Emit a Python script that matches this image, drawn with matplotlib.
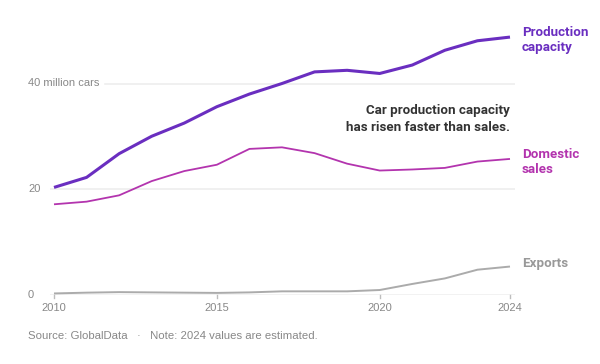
import matplotlib
matplotlib.use("Agg")
import matplotlib.pyplot as plt
from matplotlib import transforms

years = list(range(2010, 2025))
production_capacity = [20.3, 22.2, 26.7, 30.0, 32.5, 35.6, 38.0, 40.0, 42.2, 42.5, 41.9, 43.5, 46.3, 48.1, 48.8]
domestic_sales = [17.1, 17.6, 18.8, 21.5, 23.4, 24.6, 27.6, 27.9, 26.8, 24.8, 23.5, 23.7, 24.0, 25.2, 25.7]
exports = [0.2, 0.35, 0.45, 0.4, 0.35, 0.3, 0.4, 0.6, 0.6, 0.6, 0.85, 2.0, 3.05, 4.7, 5.3]

xticks = [2010, 2015, 2020, 2024]
yticks = [0, 20, 40]
ytick_labels = ["0", "20", "40 million cars"]

C_PROD = "#6a2ec0"
C_DOM = "#b334ae"
C_EXP = "#ababab"

NARROW = ["Liberation Sans Narrow", "Roboto", "DejaVu Sans"]
REG = ["Liberation Sans", "DejaVu Sans"]

W, H = 600, 364
fig = plt.figure(figsize=(6, 3.64), dpi=100)
x0px, x1px = 50, 515
ybot = 294.5
ax = fig.add_axes([x0px / W, (H - ybot) / H, (x1px - x0px) / W, 55 * 5.275 / H])
ax.set_xlim(2010 - 4 / 32.571, 2010 + 461 / 32.571)
ax.set_ylim(0, 55)
for s in ax.spines.values():
    s.set_visible(False)
ax.set_xticks([])
ax.set_yticks([])

# gridlines
ax.axhline(20, xmin=0, xmax=1, color="#eeeeee", lw=1.2, zorder=0)
ax.axhline(40, xmin=(105 - x0px) / (x1px - x0px), xmax=1, color="#eeeeee", lw=1.2, zorder=0)
ax.axhline(0, color="#bdbdbd", lw=1.0, zorder=1)

ylab_tr = transforms.blended_transform_factory(fig.transFigure, ax.transData)
for v, lab in zip(yticks, ytick_labels):
    ax.text(28 / W, v, lab, transform=ylab_tr, ha="left", va="center",
            fontsize=8, color="#888888", family=REG)

for xt in xticks:
    ax.plot([xt, xt], [0, -0.75], color="#bdbdbd", lw=1.0, clip_on=False)
    ax.text(xt, -2.6, str(xt), ha="center", va="center", fontsize=8,
            color="#888888", family=REG, clip_on=False)

ax.plot(years, exports, color=C_EXP, lw=1.4, zorder=3, solid_capstyle="butt")
ax.plot(years, domestic_sales, color=C_DOM, lw=1.3, zorder=4, solid_capstyle="butt")
ax.plot(years, production_capacity, color=C_PROD, lw=2.2, zorder=5, solid_capstyle="butt")

lx = 2024 + 12 / 32.571
ax.text(lx, production_capacity[-1] - 0.6, "Production\ncapacity", ha="left", va="center",
        fontsize=9.6, fontweight="bold", color=C_PROD, family=NARROW, linespacing=1.15)
ax.text(lx, domestic_sales[-1] - 0.6, "Domestic\nsales", ha="left", va="center",
        fontsize=9.6, fontweight="bold", color=C_DOM, family=NARROW, linespacing=1.15)
ax.text(lx, exports[-1] + 0.6, "Exports", ha="left", va="center",
        fontsize=9.6, fontweight="bold", color="#999999", family=NARROW)

ax.text(2024, 33.2, "Car production capacity\nhas risen faster than sales.", ha="right",
        va="center", fontsize=9.6, fontweight="bold", color="#333333", family=NARROW,
        linespacing=1.4)

fig.text(28 / W, 1 - 335.7 / H, "Source: GlobalData   \u00b7   Note: 2024 values are estimated.",
         ha="left", va="center", fontsize=8.2, color="#888888", family=REG)

fig.savefig("out.png", dpi=100, facecolor="white")
